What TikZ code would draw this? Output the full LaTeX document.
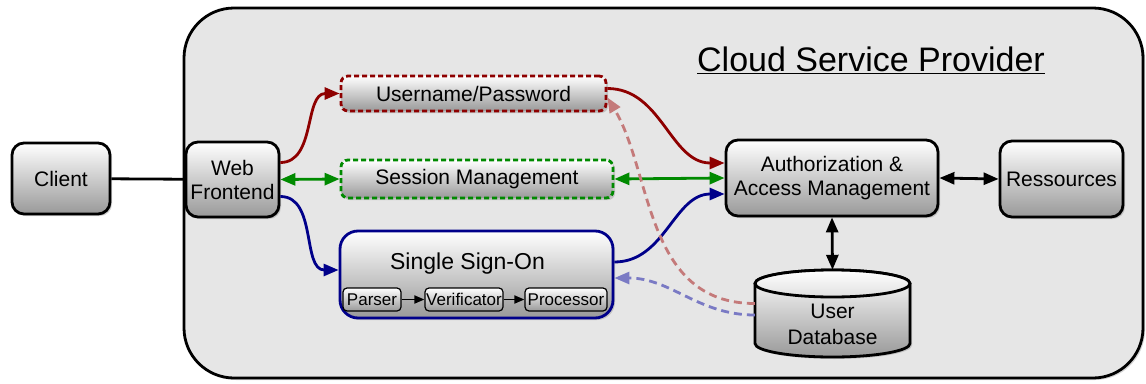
\documentclass[tikz,border=0pt]{standalone}
\usepackage{fontspec}
\setmainfont{Liberation Sans}
\usetikzlibrary{shapes.geometric,shadows,arrows.meta}
\definecolor{dred}{HTML}{8E0000}
\definecolor{dgreen}{HTML}{008A00}
\definecolor{dblue}{HTML}{00008A}
\definecolor{lred}{HTML}{C47A7A}
\definecolor{lblue}{HTML}{7A7AC4}
\definecolor{cloudfill}{HTML}{E6E6E6}
\begin{document}
\begin{tikzpicture}[x=1pt,y=-1pt,
  shad/.style={drop shadow={shadow xshift=2pt,shadow yshift=-2pt,opacity=0.35}},
  grad/.style={top color=white,bottom color=black!40},
  box/.style={draw=black,line width=2.8pt,rounded corners=12pt,grad,shad,
    font=\fontsize{21}{24}\selectfont,align=center,inner sep=0pt},
  dbox/.style={line width=2.8pt,rounded corners=7pt,dash pattern=on 5pt off 3pt,grad,shad,
    font=\fontsize{21}{24}\selectfont,inner sep=0pt},
  sub/.style={draw=black,line width=1.2pt,rounded corners=4pt,grad,
    font=\fontsize{17}{19}\selectfont,inner sep=0pt,minimum height=23pt},
  tip/.style={-{Triangle[length=15pt,width=12pt]}},
  dtip/.style={{Triangle[length=15pt,width=12pt]}-{Triangle[length=15pt,width=12pt]}},
  con/.style={line width=2.8pt},
]
\useasboundingbox (0,0) rectangle (1146,383);
% cloud
\node[draw=black,line width=2.8pt,rounded corners=50pt,fill=cloudfill,shad,
  minimum width=959pt,minimum height=370pt] (cloud) at (663.5,193) {};
\node[font=\fontsize{34}{38}\selectfont] (title) at (871,60) {\underline{Cloud Service Provider}};

\node[box,minimum width=98pt,minimum height=71pt] (client) at (61,178.5) {Client};
\node[box,minimum width=93pt,minimum height=75pt] (web) at (232.5,179.5) {Web\\Frontend};
\node[dbox,draw=dred,minimum width=265pt,minimum height=35pt] (user) at (473.5,93.5) {Username/Password};
\node[dbox,draw=dgreen,minimum width=272pt,minimum height=38pt] (sess) at (477,179) {Session Management};
\node[box,draw=dblue,rounded corners=18pt,minimum width=273pt,minimum height=87pt] (sso) at (476.5,274.5) {};
\node[font=\fontsize{23}{26}\selectfont] (ssot) at (467.5,264) {Single Sign-On};
\node[sub,minimum width=58pt] (parser) at (372,299.5) {Parser};
\node[sub,minimum width=78pt] (verif) at (464,299.5) {Verificator};
\node[sub,minimum width=82pt] (proc) at (566,299.5) {Processor};
\node[box,minimum width=212pt,minimum height=76pt] (auth) at (832,178) {Authorization \&\\Access Management};
\node[box,minimum width=123pt,minimum height=76pt] (res) at (1061.5,179) {Ressources};
% user database (cylinder)
\node[inner sep=0pt,minimum width=155pt,minimum height=87pt] (db) at (832.5,313.5) {};
\path[draw=black,line width=2.8pt,grad,shad]
  (755,283.5) -- (755,343.5) .. controls (755,350.96) and (789.7,357) .. (832.5,357)
  .. controls (875.3,357) and (910,350.96) .. (910,343.5) -- (910,283.5)
  .. controls (910,276.04) and (875.3,270) .. (832.5,270)
  .. controls (789.7,270) and (755,276.04) .. (755,283.5) -- cycle;
\draw[line width=2.8pt,top color=white,bottom color=black!12] (832.5,283.5) ellipse [x radius=77.5,y radius=13.5];
\node[align=center,font=\fontsize{21}{26}\selectfont] (dbt) at (832.5,324) {User\\Database};

% connectors
\draw[con,line width=2.8pt] (client) -- (web);
\draw[con,dred,tip] ([yshift=17pt]web.east) to[out=0,in=180] (user.west);
\draw[con,dred,tip] ([yshift=5pt]user.east) to[out=0,in=180] ([yshift=15pt]auth.west);
\draw[con,dgreen,dtip] (web.east) -- (sess.west);
\draw[con,dgreen,dtip] (sess.east) -- (auth.west);
\draw[con,dblue,tip] ([yshift=-17pt]web.east) to[out=0,in=180] ([yshift=4.5pt]sso.west);
\draw[con,dblue,tip] ([yshift=12.5pt]sso.east) to[out=0,in=180] ([yshift=-16pt]auth.west);
\draw[con,black,dtip] (auth.south) -- (db.north);
\draw[con,black,dtip] (auth.east) -- (res.west);
\draw[con,lred,tip,dash pattern=on 8pt off 5pt] ([yshift=10pt]db.west) .. controls +(-110,0) and +(45,75) .. ([yshift=-4pt]user.east);
\draw[con,lblue,tip,dash pattern=on 8pt off 5pt] ([yshift=-1.5pt]db.west) to[out=180,in=0] ([yshift=-3.5pt]sso.east);
\draw[line width=1.8pt,-{Triangle[length=10pt,width=8pt]}] (parser) -- (verif);
\draw[line width=1.8pt,-{Triangle[length=10pt,width=8pt]}] (verif) -- (proc);
\end{tikzpicture}
\end{document}
